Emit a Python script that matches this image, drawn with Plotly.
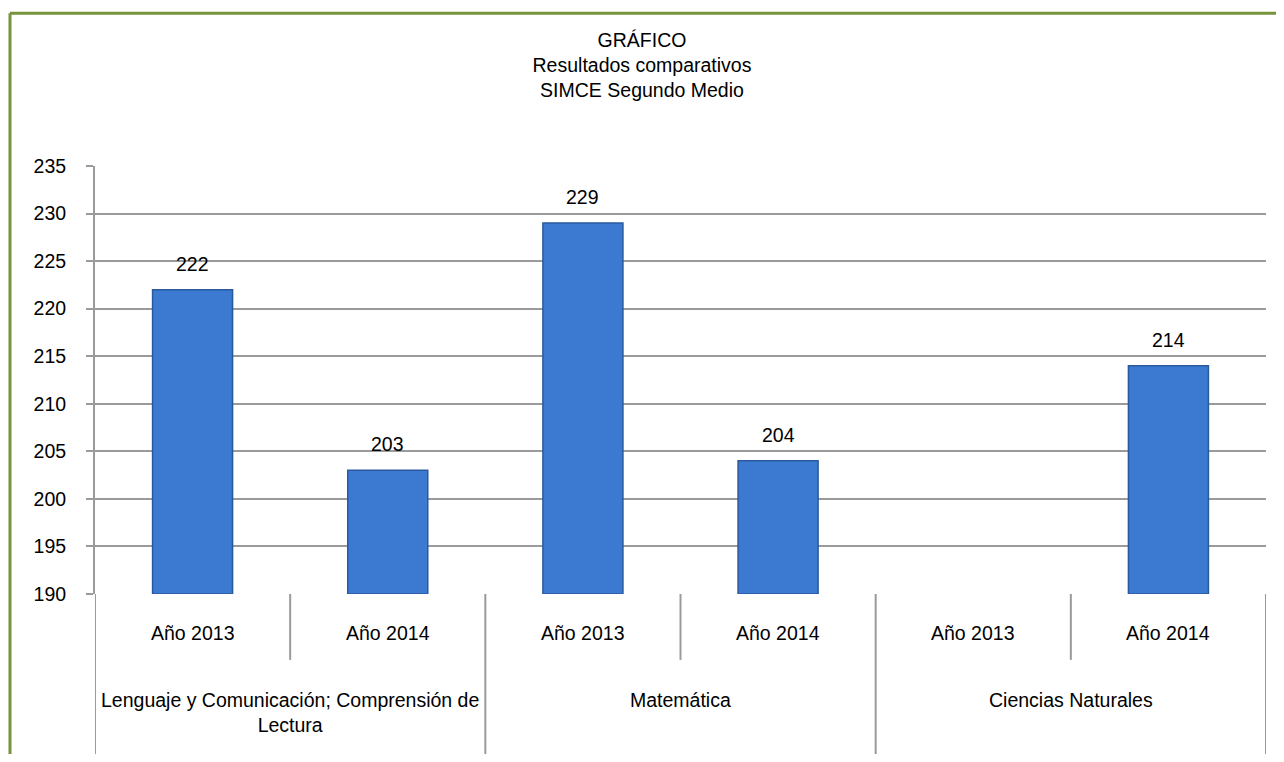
import plotly.graph_objects as go

# Datos
grupos = ["Lenguaje y Comunicación; Comprensión de<br>Lectura", "Matemática", "Ciencias Naturales"]
anios = ["Año 2013", "Año 2014"]
puntajes = [222, 203, 229, 204, None, 214]
ticks_y = [190, 195, 200, 205, 210, 215, 220, 225, 230, 235]

FUENTE = "Liberation Sans, Arial"
TAM = 19.5
AZUL = "#3B7AD0"
GRIS = "#9A9A9A"
VERDE = "#77933C"


def main():
    n = len(grupos) * len(anios)
    xs = list(range(n))

    fig = go.Figure()
    fig.add_trace(
        go.Bar(
            x=xs,
            y=[v - 190 if v is not None else None for v in puntajes],
            base=190,
            width=0.41,
            marker_color=AZUL,
            marker_line_color="#2A5A9E",
            marker_line_width=1.5,
            hoverinfo="skip",
        )
    )

    anotaciones = []
    formas = []

    # valores sobre las barras
    for i, v in zip(xs, puntajes):
        if v is None:
            continue
        anotaciones.append(dict(
            x=i, xref="x", y=v, yref="y", yanchor="bottom",
            yshift=13, text=str(v), showarrow=False,
            font=dict(size=TAM, family=FUENTE, color="black"),
        ))

    # etiquetas de año bajo cada barra
    for i in xs:
        anotaciones.append(dict(
            x=i, xref="x", y=-0.091, yref="paper",
            text=anios[i % 2], showarrow=False,
            font=dict(size=TAM, family=FUENTE, color="black"),
            yanchor="middle",
        ))

    # etiquetas de grupo
    for g, nombre in enumerate(grupos):
        nlin = nombre.count("<br>") + 1
        anotaciones.append(dict(
            x=g * 2 + 0.5, xref="x", y=-0.248, yref="paper",
            text=nombre, showarrow=False,
            font=dict(size=TAM, family=FUENTE, color="black"),
            yanchor="top" if nlin > 1 else "middle",
            yshift=13 if nlin > 1 else 0,
        ))

    # divisores del eje de categorías
    for k in range(n + 1):
        largo = -0.40 if k % 2 == 0 else -0.154
        formas.append(dict(
            type="line", xref="x", yref="paper",
            x0=k - 0.5, x1=k - 0.5, y0=0, y1=largo,
            line=dict(color=GRIS, width=2),
        ))

    # marco verde (parcial, como en el original)
    formas.append(dict(type="line", xref="paper", yref="paper",
                       x0=-0.0726, x1=1.05, y0=1.357, y1=1.357,
                       line=dict(color=VERDE, width=3)))
    formas.append(dict(type="line", xref="paper", yref="paper",
                       x0=-0.0726, x1=-0.0726, y0=1.357, y1=-0.45,
                       line=dict(color=VERDE, width=3)))

    fig.update_xaxes(
        range=[-0.5, n - 0.5],
        showticklabels=False,
        showgrid=False,
        zeroline=False,
        showline=False,
        ticks="",
    )

    fig.update_yaxes(
        range=[190, 235],
        tickvals=ticks_y,
        ticks="outside",
        ticklen=7,
        tickcolor=GRIS,
        tickwidth=2,
        showline=True,
        linecolor=GRIS,
        linewidth=2,
        gridcolor=GRIS,
        gridwidth=2,
        zeroline=False,
        tickfont=dict(size=TAM, family=FUENTE, color="black"),
        ticklabelstandoff=16,
    )

    fig.update_layout(
        width=1268,
        height=746,
        showlegend=False,
        plot_bgcolor="white",
        paper_bgcolor="white",
        margin=dict(l=87, r=10, t=158, b=160),
        title=dict(
            text="GRÁFICO<br>Resultados comparativos<br>SIMCE Segundo Medio",
            x=0.5, xanchor="center",
            y=0.948, yanchor="top",
            font=dict(size=TAM, family=FUENTE, color="black"),
        ),
        annotations=anotaciones,
        shapes=formas,
    )

    fig.write_html("out.html")


if __name__ == "__main__":
    main()
